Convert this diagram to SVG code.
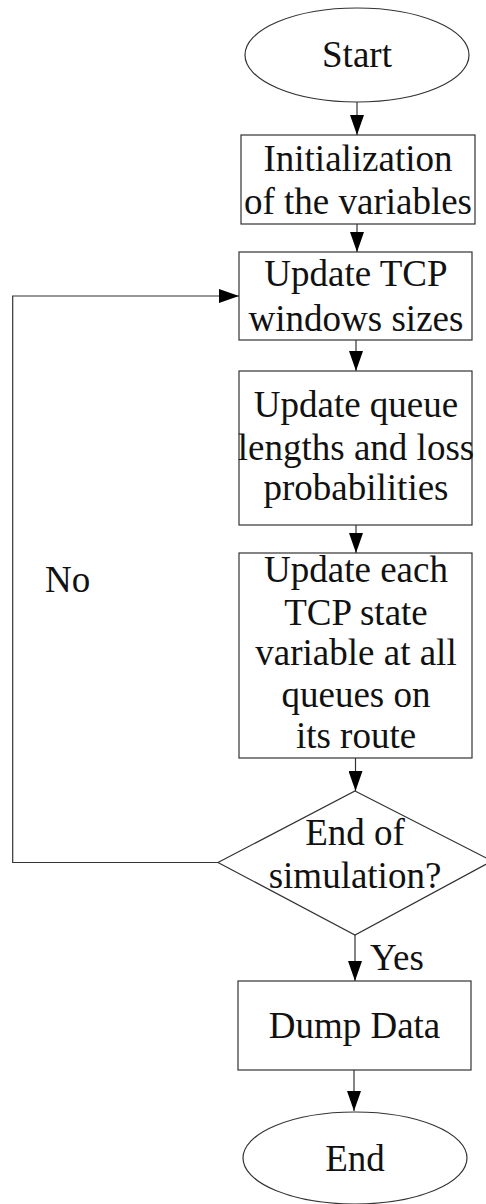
<svg xmlns="http://www.w3.org/2000/svg" width="486" height="1204" viewBox="0 0 486 1204">
<style>
  .shape { fill: #ffffff; stroke: #333333; stroke-width: 1.2; }
  .edge { fill: none; stroke: #333333; stroke-width: 1.2; }
  .lbl { font-family: "Liberation Serif", "Times New Roman", serif; font-size: 37px; fill: #111111; text-anchor: middle; }
  .free { font-family: "Liberation Serif", "Times New Roman", serif; font-size: 37px; fill: #111111; }
</style>
<defs>
  <marker id="arr" markerWidth="20" markerHeight="14" refX="20" refY="7" orient="auto" markerUnits="userSpaceOnUse">
    <path d="M0,0 L20,7 L0,14 Z" fill="#000000"/>
  </marker>
</defs>
<rect width="486" height="1204" fill="#ffffff"/>

<g id="connectors">
  <line class="edge" x1="357" y1="102" x2="357" y2="135" marker-end="url(#arr)"/>
  <line class="edge" x1="357" y1="224" x2="357" y2="252" marker-end="url(#arr)"/>
  <line class="edge" x1="356" y1="340" x2="356" y2="371" marker-end="url(#arr)"/>
  <line class="edge" x1="356" y1="525" x2="356" y2="553" marker-end="url(#arr)"/>
  <line class="edge" x1="355.5" y1="758" x2="355.5" y2="791" marker-end="url(#arr)"/>
  <line class="edge" x1="355" y1="935" x2="355" y2="981" marker-end="url(#arr)"/>
  <line class="edge" x1="354" y1="1070" x2="354" y2="1111" marker-end="url(#arr)"/>
  <polyline class="edge" points="218,862.5 12.7,862.5 12.7,296 239,296" marker-end="url(#arr)"/>
  <text class="free" x="45" y="592">No</text>
  <text class="free" x="370" y="970">Yes</text>
</g>

<g id="start">
  <ellipse class="shape" cx="357" cy="55" rx="112" ry="47"/>
  <text class="lbl" x="357" y="67">Start</text>
</g>

<g id="init">
  <rect class="shape" x="241" y="135" width="234" height="89"/>
  <text class="lbl" x="358" y="171">Initialization</text>
  <text class="lbl" x="358" y="214">of the variables</text>
</g>

<g id="update-tcp">
  <rect class="shape" x="239" y="252" width="233" height="88"/>
  <text class="lbl" x="356" y="286">Update TCP</text>
  <text class="lbl" x="356" y="331">windows sizes</text>
</g>

<g id="update-queue">
  <rect class="shape" x="239" y="371" width="233" height="154"/>
  <text class="lbl" x="356" y="417">Update queue</text>
  <text class="lbl" x="356" y="460">lengths and loss</text>
  <text class="lbl" x="356" y="500">probabilities</text>
</g>

<g id="update-state">
  <rect class="shape" x="239" y="553" width="233" height="205"/>
  <text class="lbl" x="356" y="582">Update each</text>
  <text class="lbl" x="356" y="625">TCP state</text>
  <text class="lbl" x="356" y="665">variable at all</text>
  <text class="lbl" x="356" y="707">queues on</text>
  <text class="lbl" x="356" y="748">its route</text>
</g>

<g id="end-check">
  <polygon class="shape" points="355,791 492,861 355,935 218,862.5"/>
  <text class="lbl" x="355" y="845">End of</text>
  <text class="lbl" x="355" y="888">simulation?</text>
</g>

<g id="dump">
  <rect class="shape" x="238" y="981" width="233" height="89"/>
  <text class="lbl" x="354.5" y="1038">Dump Data</text>
</g>

<g id="end">
  <ellipse class="shape" cx="355" cy="1158" rx="112" ry="46"/>
  <text class="lbl" x="355" y="1171">End</text>
</g>
</svg>
